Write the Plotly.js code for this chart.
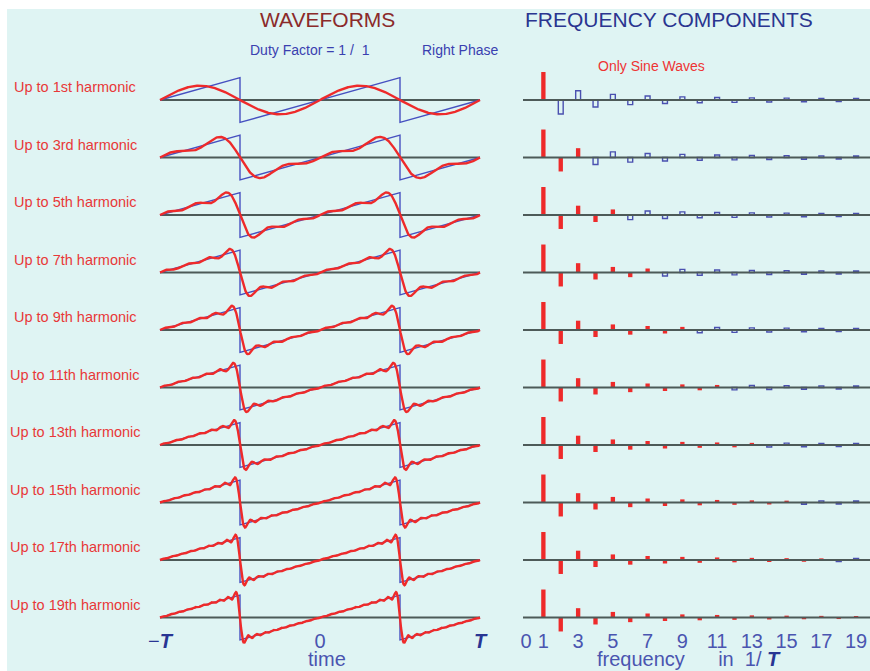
<!DOCTYPE html>
<html>
<head>
<meta charset="utf-8">
<script src="https://cdn.plot.ly/plotly-3.0.1.min.js"></script>
<style>html,body{margin:0;padding:0;background:#fff;}#chart{width:870px;height:671px;}</style>
</head>
<body>
<div id="chart"></div>
<script>
// ---- data ----
const rowHarmonics = [1, 3, 5, 7, 9, 11, 13, 15, 17, 19];
const rowLabels = ['Up to 1st harmonic', 'Up to 3rd harmonic', 'Up to 5th harmonic', 'Up to 7th harmonic',
  'Up to 9th harmonic', 'Up to 11th harmonic', 'Up to 13th harmonic', 'Up to 15th harmonic',
  'Up to 17th harmonic', 'Up to 19th harmonic'];
const harmonics = [1, 2, 3, 4, 5, 6, 7, 8, 9, 10, 11, 12, 13, 14, 15, 16, 17, 18, 19];
const coefficients = [0.637, -0.318, 0.212, -0.159, 0.127, -0.106, 0.091, -0.080, 0.071, -0.064,
  0.058, -0.053, 0.049, -0.045, 0.042, -0.040, 0.037, -0.035, 0.034];
const sawX = [-1, -0.5, -0.5, 0.5, 0.5, 1];
const sawY = [0, 1, -1, 1, -1, 0];
const timeTickVals = [-1, 0, 1];
const timeTickText = ['<span style="color:#283593">−<i><b>T</b></i></span>', '0', '<span style="color:#283593"><i><b>T</b></i></span>'];
const freqTickVals = [0, 1, 3, 5, 7, 9, 11, 13, 15, 17, 19];
const freqTickText = ['0', '1', '3', '5', '7', '9', '11', '13', '15', '17', '19'];
const timeTitle = 'time';
const freqTitle = 'frequency\u00A0\u00A0\u00A0\u00A0\u00A0\u00A0in\u00A0\u00A01/\u00A0<span style="color:#283593"><i><b>T</b></i></span>';

// ---- styling / scale ----
const W = 870, H = 671, AXIS_PX = 627, ROW_PX = 57.5, TOP_BASE = 100;
const WAVE_AMP = 0.39, BAR_SCALE = 0.764;
const RED = '#ee2a2a', BLUE = '#4650c0', BASE = '#4d5a58';
const FONT = 'Liberation Sans, Arial, sans-serif';
const labelLeft = [12, 12, 12, 12, 12, 8, 8, 8, 8, 8];

const traces = [];
const tGrid = [];
for (let i = 0; i <= 640; i++) tGrid.push(-1 + 2 * i / 640);

rowHarmonics.forEach((N, k) => {
  const off = -k;
  traces.push({x: [-1, 1], y: [off, off], xaxis: 'x', yaxis: 'y', mode: 'lines',
    line: {color: BASE, width: 1.8}, hoverinfo: 'skip'});
  traces.push({x: sawX, y: sawY.map(v => v * WAVE_AMP + off), xaxis: 'x', yaxis: 'y', mode: 'lines',
    line: {color: BLUE, width: 1.4}, hoverinfo: 'skip'});
  const ys = tGrid.map(t => {
    let s = 0;
    for (let j = 0; j < harmonics.length; j++) {
      if (harmonics[j] <= N) s += coefficients[j] * Math.sin(2 * Math.PI * harmonics[j] * t);
    }
    return s * WAVE_AMP + off;
  });
  traces.push({x: tGrid, y: ys, xaxis: 'x', yaxis: 'y', mode: 'lines',
    line: {color: RED, width: 2.4}, hoverinfo: 'skip'});

  const inc = harmonics.filter(n => n <= N);
  const exc = harmonics.filter(n => n > N);
  traces.push({type: 'bar', x: exc, y: exc.map(n => coefficients[n - 1] * BAR_SCALE),
    base: exc.map(() => off), width: 0.28, xaxis: 'x2', yaxis: 'y',
    marker: {color: 'rgba(0,0,0,0)', line: {color: '#4a50b0', width: 1.4}}, hoverinfo: 'skip'});
  traces.push({type: 'bar', x: inc, y: inc.map(n => coefficients[n - 1] * BAR_SCALE),
    base: inc.map(() => off), width: 0.25, xaxis: 'x2', yaxis: 'y',
    marker: {color: RED, line: {width: 0}}, hoverinfo: 'skip'});
  traces.push({x: [-0.2, 19.8], y: [off, off], xaxis: 'x2', yaxis: 'y', mode: 'lines',
    line: {color: BASE, width: 1.8}, hoverinfo: 'skip'});
});

const py = p => 1 - p / H;
function note(text, xpx, ypx, size, color) {
  return {text: text, x: xpx / W, y: py(ypx), xref: 'paper', yref: 'paper', xanchor: 'center',
    yanchor: 'middle', showarrow: false, font: {family: FONT, size: size, color: color}};
}
const annotations = [
  note('WAVEFORMS', 327, 19, 21, '#8b2a2a'),
  note('FREQUENCY COMPONENTS', 669, 19, 21, '#2a3590'),
  note('Duty Factor = 1 / \u00A01', 310, 50, 14, '#3a40b0'),
  note('Right Phase', 460, 50, 14, '#3a40b0'),
  note('Only Sine Waves', 651, 66, 14, '#ee3333'),
  note(timeTitle, 327, 659, 20, '#4a55b0'),
  note(freqTitle, 689, 659, 20, '#4a55b0')
];
rowLabels.forEach((lab, k) => {
  annotations.push({text: lab, x: labelLeft[k] / W, xanchor: 'left', y: -k + 0.22, yanchor: 'middle',
    xref: 'paper', yref: 'y', showarrow: false, font: {family: FONT, size: 14.5, color: '#e83838'}});
});

const axisPos = 1 - AXIS_PX / H;
const layout = {
  width: W, height: H,
  margin: {l: 0, r: 0, t: 0, b: 0, pad: 0},
  paper_bgcolor: '#dff4f3', plot_bgcolor: 'rgba(0,0,0,0)',
  showlegend: false, barmode: 'overlay',
  font: {family: FONT},
  xaxis: {domain: [150 / W, 490 / W], range: [-1.0625, 1.0625], anchor: 'free', position: axisPos,
    showgrid: false, zeroline: false, showline: false, ticks: '',
    tickmode: 'array', tickvals: timeTickVals, ticktext: timeTickText,
    tickfont: {family: FONT, size: 20, color: '#4a55b0'}},
  xaxis2: {domain: [523 / W, 1], range: [-0.173, 19.8], anchor: 'free', position: axisPos,
    showgrid: false, zeroline: false, showline: false, ticks: '',
    tickmode: 'array', tickvals: freqTickVals, ticktext: freqTickText,
    tickfont: {family: FONT, size: 20, color: '#4a55b0'}},
  yaxis: {domain: [0, 1], range: [-(H - TOP_BASE) / ROW_PX, TOP_BASE / ROW_PX], anchor: 'x',
    showgrid: false, zeroline: false, showline: false, showticklabels: false, ticks: '', fixedrange: true},
  shapes: [
    {type: 'rect', xref: 'paper', yref: 'paper', x0: 0, x1: 1, y0: py(9), y1: 1, fillcolor: '#ffffff', line: {width: 0}, layer: 'below'},
    {type: 'rect', xref: 'paper', yref: 'paper', x0: 0, x1: 7 / W, y0: 0, y1: 1, fillcolor: '#ffffff', line: {width: 0}, layer: 'below'}
  ],
  annotations: annotations
};

Plotly.newPlot('chart', traces, layout, {staticPlot: true, displayModeBar: false});
</script>
</body>
</html>
